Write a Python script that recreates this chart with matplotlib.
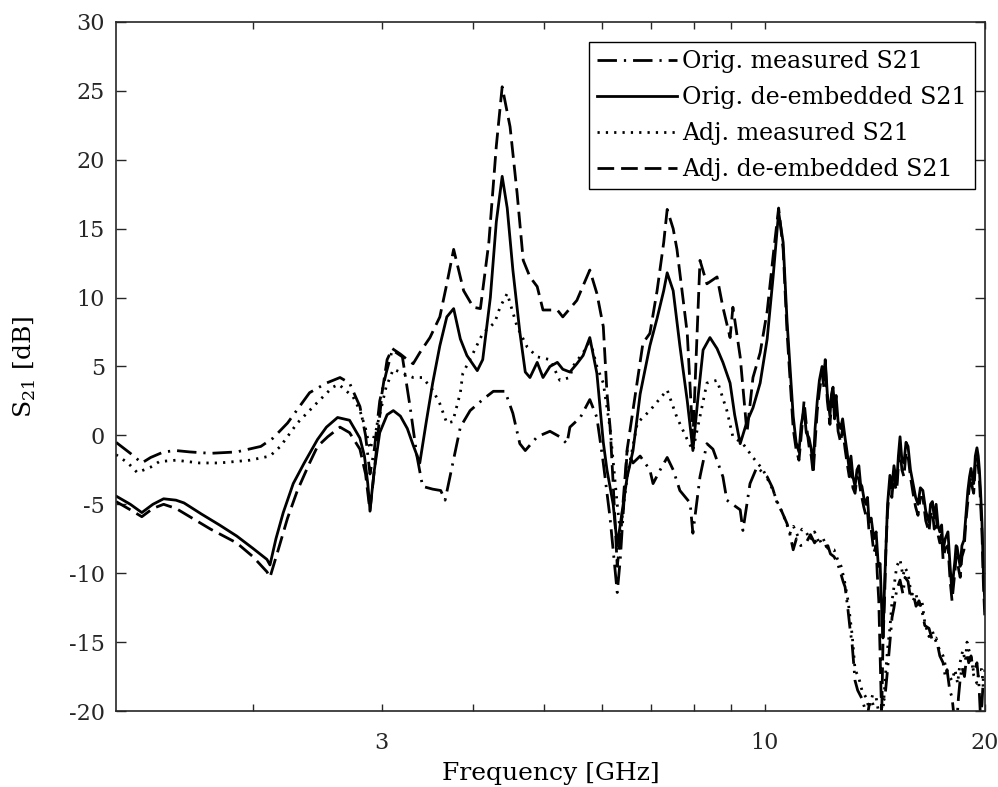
import numpy as np
import matplotlib
matplotlib.use("Agg")
import matplotlib.pyplot as plt
from matplotlib.ticker import NullLocator

plt.rcParams['font.family'] = ['DejaVu Serif']
plt.rcParams['mathtext.fontset'] = 'custom'
plt.rcParams['mathtext.rm'] = 'DejaVu Serif'
plt.rcParams['axes.unicode_minus'] = False

# Orig. de-embedded S21 (solid)
f_orig_deemb = [1.30, 1.36, 1.41, 1.46, 1.51, 1.57, 1.61, 1.70, 1.80, 1.90, 2.00, 2.09, 2.11, 2.15,
                2.20, 2.27, 2.35, 2.45, 2.52, 2.61, 2.71, 2.80, 2.84, 2.87, 2.89, 2.93, 2.98, 3.05,
                3.11, 3.18, 3.25, 3.31, 3.38, 3.45, 3.52, 3.60, 3.68, 3.76, 3.84, 3.92, 4.05, 4.12,
                4.22, 4.30, 4.38, 4.45, 4.53, 4.63, 4.71, 4.78, 4.89, 4.98, 5.09, 5.21, 5.30, 5.42,
                5.54, 5.65, 5.77, 5.90, 6.02, 6.09, 6.21, 6.29, 6.35, 6.49, 6.61, 6.76, 6.97, 7.13,
                7.28, 7.36, 7.50, 7.66, 7.84, 7.98, 8.10, 8.24, 8.42, 8.61, 8.77, 8.97, 9.10, 9.26,
                9.46, 9.64, 9.86, 10.08, 10.27, 10.45, 10.60, 10.73,
                10.94, 11.04, 11.14, 11.22, 11.32, 11.40, 11.50, 11.58, 11.65, 11.72, 11.80, 11.88,
                11.98, 12.05, 12.10, 12.18, 12.28, 12.34, 12.40, 12.46, 12.52, 12.60, 12.70, 12.78,
                12.88, 12.96, 13.05, 13.12, 13.20, 13.29, 13.37, 13.45, 13.52, 13.58, 13.66, 13.75,
                13.82, 13.89, 13.98, 14.10, 14.20, 14.30, 14.38, 14.45, 14.51, 14.58, 14.65, 14.72,
                14.83, 14.92, 15.02, 15.10, 15.15, 15.23, 15.31, 15.40, 15.50, 15.60, 15.70, 15.82,
                15.95, 16.08, 16.20, 16.32, 16.45, 16.60, 16.77, 16.85, 16.95, 17.05, 17.15, 17.25,
                17.35, 17.45, 17.53, 17.65, 17.80, 17.92, 18.03, 18.12, 18.20, 18.26, 18.32, 18.42,
                18.50, 18.60, 18.72, 18.85, 18.95, 19.05, 19.14, 19.22, 19.30, 19.40, 19.50, 19.58,
                19.65, 19.72, 19.81, 19.90, 20.0]
s_orig_deemb = [-4.4, -5.0, -5.6, -5.0, -4.6, -4.7, -4.9, -5.7, -6.5, -7.3, -8.2, -9.0, -9.4, -7.5,
                -5.6, -3.5, -2.0, -0.3, 0.6, 1.3, 1.1, -0.2, -1.5, -3.5, -5.4, -2.5, 0.2, 1.5,
                1.8, 1.4, 0.5, -0.7, -2.0, 1.0, 3.8, 6.5, 8.6, 9.2, 7.0, 5.8, 4.7, 5.5,
                10.0, 15.5, 18.8, 16.5, 12.0, 7.5, 4.6, 4.2, 5.3, 4.2, 5.0, 5.3, 4.8, 4.6,
                5.2, 5.8, 7.1, 4.5, -0.5, -2.5, -5.0, -8.0, -6.5, -3.0, -1.1, 3.0, 6.5, 8.5,
                10.5, 11.8, 10.5, 6.5, 2.5, -1.1, 2.5, 6.2, 7.1, 6.3, 5.3, 3.8, 1.5, -0.6,
                1.0, 2.0, 3.8, 7.0, 11.5, 16.2, 14.0, 8.3,
                1.4, -0.5, -1.2, 0.8, 1.9, 0.2, -0.2, -1.0, -2.4, 0.5, 2.5, 4.0,
                5.0, 4.0, 5.5, 3.0, 1.4, 3.0, 3.5, 2.0, 2.9, 1.0, 0.5, 1.2,
                -0.2, -1.2, -2.5, -1.5, -3.0, -3.7, -2.5, -2.2, -3.5, -3.7, -4.5, -5.0,
                -4.5, -6.3, -6.0, -7.5, -7.0, -9.5, -9.3, -12.5, -14.7, -11.0, -8.0, -5.0,
                -2.9, -3.8, -2.2, -3.0, -3.5, -1.5, -0.1, -1.8, -2.0, -0.5, -0.8, -2.5,
                -3.5, -4.5, -5.0, -3.8, -4.0, -5.5, -6.3, -5.0, -4.8, -6.0, -5.0, -6.5,
                -7.0, -6.5, -8.3, -7.5, -7.0, -9.5, -11.4, -10.0, -9.0, -8.0, -8.1, -9.0,
                -9.5, -8.0, -7.6, -5.5, -4.0, -3.0, -2.4, -3.0, -3.5, -1.5, -0.9, -1.5,
                -2.5, -4.0, -6.3, -10.0, -12.5]

# Adj. de-embedded S21 (dashed)
f_adj_deemb = [1.30, 1.36, 1.41, 1.46, 1.51, 1.57, 1.64, 1.75, 1.90, 2.00, 2.09, 2.11, 2.16, 2.23,
               2.30, 2.39, 2.45, 2.53, 2.63, 2.71, 2.80, 2.85, 2.89, 2.95, 3.00, 3.05, 3.10, 3.18,
               3.25, 3.31, 3.38, 3.49, 3.60, 3.68, 3.76, 3.84, 3.88, 4.00, 4.09, 4.20, 4.30, 4.38,
               4.49, 4.59, 4.68, 4.78, 4.89, 4.98, 5.21, 5.30, 5.54, 5.77, 5.90, 6.02, 6.09, 6.15,
               6.21, 6.29, 6.35, 6.49, 6.82, 6.97, 7.13, 7.28, 7.36, 7.50, 7.59, 7.84, 7.98, 8.16,
               8.34, 8.61, 8.77, 8.97, 9.05, 9.26, 9.46, 9.64, 9.86, 10.08, 10.27, 10.45, 10.60,
               10.73, 10.94, 11.04, 11.14, 11.22, 11.32, 11.40, 11.50, 11.58, 11.65, 11.72, 11.80,
               11.88, 11.98, 12.05, 12.10, 12.18, 12.28, 12.34, 12.40, 12.46, 12.52, 12.60, 12.70,
               12.78, 12.88, 12.96, 13.05, 13.12, 13.20, 13.29, 13.37, 13.45, 13.52, 13.58, 13.66,
               13.75, 13.82, 13.89, 13.98, 14.10, 14.20, 14.25, 14.32, 14.38, 14.45, 14.51, 14.58,
               14.65, 14.72, 14.83, 14.92, 15.02, 15.10, 15.15, 15.23, 15.31, 15.40, 15.50, 15.60,
               15.70, 15.82, 15.95, 16.08, 16.20, 16.32, 16.45, 16.60, 16.77, 16.85, 16.95, 17.05,
               17.15, 17.25, 17.35, 17.45, 17.53, 17.65, 17.80, 17.92, 18.03, 18.12, 18.20, 18.26,
               18.32, 18.42, 18.50, 18.60, 18.72, 18.85, 18.95, 19.05, 19.14, 19.22, 19.30, 19.40,
               19.50, 19.58, 19.65, 19.72, 19.81, 19.90, 20.0]
s_adj_deemb = [-4.8, -5.4, -5.9, -5.3, -5.0, -5.3, -5.9, -6.8, -7.8, -8.8, -9.9, -10.3, -8.5, -6.0,
               -4.0, -2.0, -0.8, -0.1, 0.6, 0.2, -1.0, -2.8, -5.5, -1.0, 3.0, 5.5, 6.3, 5.9,
               5.5, 5.2, 6.0, 7.1, 8.6, 11.0, 13.5, 11.5, 10.5, 9.3, 9.2, 14.0, 21.0, 25.3,
               22.4, 17.6, 12.7, 11.5, 10.8, 9.1, 9.1, 8.6, 9.8, 12.0, 10.3, 7.9, 3.1, 0.6,
               -3.5, -9.5, -7.5, -1.0, 6.7, 7.4, 10.5, 14.0, 16.4, 15.0, 13.5, 7.4, -0.3, 12.7,
               11.0, 11.5, 9.3, 7.1, 9.3, 5.7, 0.2, 4.2, 6.0, 9.0, 13.0, 16.5, 13.5,
               7.5, 0.5, -1.0, -1.8, 0.0, 2.5, 0.8, -0.8, -1.5, -2.8, -0.5, 1.8,
               3.2, 4.5, 3.5, 5.2, 2.5, 0.8, 2.2, 3.0, 1.2, 2.2, 0.3, -0.5,
               0.5, -1.0, -2.0, -3.0, -2.0, -3.8, -4.2, -3.0, -3.2, -4.0, -4.5, -5.2,
               -5.8, -5.5, -7.0, -6.8, -8.5, -8.0, -10.0, -12.0, -16.0, -20.5, -15.0, -12.0,
               -8.0, -5.5, -3.5, -4.5, -2.8, -3.8, -4.0, -2.2, -1.0, -2.5, -3.0, -1.2,
               -1.5, -3.0, -4.2, -5.2, -5.8, -4.5, -4.5, -6.2, -7.0, -5.8, -5.5, -6.8,
               -5.8, -7.2, -7.8, -7.2, -9.0, -8.2, -8.0, -10.5, -12.0, -10.8, -9.8, -8.8,
               -9.0, -9.8, -10.3, -8.8, -8.3, -6.0, -4.8, -3.6, -3.0, -3.8, -4.2, -2.2,
               -1.6, -2.2, -3.2, -4.8, -7.0, -10.8, -13.5]

# Orig. measured S21 (dash-dot)
f_orig_meas = [1.30, 1.36, 1.41, 1.45, 1.51, 1.57, 1.64, 1.75, 1.90, 2.05, 2.13, 2.23, 2.39, 2.52,
               2.63, 2.71, 2.80, 2.85, 2.89, 2.93, 2.98, 3.04, 3.10, 3.20, 3.28, 3.35, 3.41, 3.52,
               3.61, 3.66, 3.75, 3.84, 3.96, 4.12, 4.26, 4.42, 4.53, 4.63, 4.71, 4.89, 5.09, 5.25,
               5.37, 5.42, 5.60, 5.77, 5.90, 6.02, 6.15, 6.29, 6.35, 6.49, 6.61, 6.76, 6.97, 7.04,
               7.20, 7.36, 7.50, 7.66, 7.91, 7.98, 8.16, 8.34, 8.50, 8.77, 8.88, 9.26, 9.34, 9.55,
               9.76, 10.08, 10.25, 10.40, 10.55, 10.73, 10.83, 10.94, 11.05, 11.20, 11.39, 11.55,
               11.70, 11.85, 12.02, 12.20, 12.30, 12.44, 12.58, 12.72, 12.80, 12.88, 13.00, 13.08,
               13.17, 13.29, 13.40, 13.58, 13.70, 13.80, 13.93, 14.06, 14.20, 14.38, 14.48, 14.60,
               14.72, 14.83, 14.93, 15.02, 15.15, 15.31, 15.45, 15.55, 15.70, 15.82, 15.95, 16.10,
               16.25, 16.40, 16.55, 16.77, 16.95, 17.15, 17.35, 17.53, 17.65, 17.75, 17.90, 18.03,
               18.15, 18.32, 18.40, 18.49, 18.60, 18.75, 18.90, 19.00, 19.14, 19.30, 19.50, 19.62,
               19.72, 19.81, 19.90, 20.0]
s_orig_meas = [-0.5, -1.3, -2.0, -1.6, -1.2, -1.1, -1.2, -1.3, -1.2, -0.8, -0.2, 0.9, 3.1, 3.8,
               4.2, 3.8, 2.1, 0.0, -2.8, -1.0, 2.5, 4.5, 6.2, 5.7, 2.0, -1.5, -3.7, -3.9,
               -4.0, -4.7, -2.0, 0.6, 1.8, 2.6, 3.2, 3.2, 1.6, -0.6, -1.1, -0.1, 0.3, -0.1,
               -0.6, 0.6, 1.3, 2.6, 1.3, -2.0, -6.0, -11.4, -9.0, -1.1, -2.0, -1.5, -2.5, -3.5,
               -2.5, -1.6, -2.5, -4.0, -4.9, -7.1, -3.0, -0.6, -1.0, -3.0, -4.7, -5.4, -6.9, -3.5,
               -2.3, -3.0, -3.8, -4.9, -5.5, -6.4, -7.2, -8.3, -7.5, -8.0, -7.8, -7.2,
               -7.8, -7.4, -8.1, -8.0, -8.6, -8.8, -9.3, -10.1, -10.6, -11.0, -12.7, -14.0,
               -15.2, -17.8, -18.5, -19.1, -19.8, -20.5, -19.2, -19.5, -20.3, -20.5, -19.5, -19.0,
               -17.0, -15.0, -13.2, -12.5, -11.2, -10.5, -11.5, -10.3, -10.6, -11.8, -11.4, -12.4,
               -12.0, -12.7, -13.8, -14.0, -14.9, -14.7, -16.0, -16.5, -17.5, -17.0, -18.5, -19.0,
               -20.5, -20.5, -19.0, -17.8, -16.8, -17.5, -15.8, -16.5, -16.0, -17.2, -16.5, -18.0,
               -20.5, -19.5, -17.5, -17.0]

# Adj. measured S21 (dotted)
f_adj_meas = [1.30, 1.35, 1.39, 1.45, 1.49, 1.57, 1.69, 1.80, 1.98, 2.11, 2.18, 2.30, 2.45, 2.57,
              2.62, 2.74, 2.80, 2.85, 2.89, 2.95, 3.04, 3.11, 3.21, 3.31, 3.41, 3.52, 3.60, 3.68,
              3.75, 3.84, 3.87, 4.00, 4.12, 4.28, 4.35, 4.45, 4.59, 4.74, 4.89, 5.09, 5.25, 5.42,
              5.47, 5.72, 5.77, 5.90, 6.02, 6.15, 6.29, 6.35, 6.49, 6.70, 6.97, 7.36, 7.59, 7.84,
              7.98, 8.34, 8.61, 8.88, 9.05, 9.34, 9.64, 9.95, 10.10, 10.27, 10.40, 10.53, 10.68,
              10.83, 10.95, 11.10, 11.25, 11.39, 11.55, 11.70, 11.85, 12.02, 12.20, 12.44, 12.58,
              12.72, 12.85, 13.00, 13.17, 13.29, 13.45, 13.58, 13.75, 13.89, 14.05, 14.20, 14.35,
              14.50, 14.62, 14.72, 14.83, 14.93, 15.02, 15.15, 15.31, 15.45, 15.55, 15.70, 15.82,
              15.95, 16.10, 16.25, 16.40, 16.55, 16.77, 16.95, 17.15, 17.35, 17.53, 17.75, 18.03,
              18.20, 18.35, 18.49, 18.65, 18.80, 18.90, 19.02, 19.14, 19.30, 19.50, 19.65, 19.81,
              19.90, 20.0]
s_adj_meas = [-1.4, -2.0, -2.7, -2.3, -1.9, -1.8, -2.0, -2.0, -1.8, -1.5, -0.8, 0.9, 2.4, 3.5,
              3.7, 2.8, 1.8, 0.5, -1.0, 0.5, 3.5, 4.8, 4.5, 4.2, 4.2, 3.3, 2.3, 0.9,
              1.0, 3.1, 4.5, 6.0, 7.4, 8.2, 9.3, 10.3, 7.9, 6.4, 5.7, 5.5, 4.0, 4.2,
              5.0, 6.4, 7.0, 5.0, 3.8, 0.5, -5.0, -7.0, -3.0, 0.9, 1.8, 3.3, 1.3, -0.3,
              -1.1, 3.8, 4.0, 1.8, -0.1, -0.6, -1.6, -2.5, -3.2, -4.0, -4.8, -5.4, -6.2,
              -7.1, -6.6, -7.3, -6.8, -7.0, -7.6, -7.0, -7.7, -7.5, -8.2, -8.3, -9.0,
              -9.5, -10.5, -12.0, -14.5, -17.0, -17.6, -18.5, -19.0, -19.8, -18.8, -19.0, -20.5,
              -20.3, -17.5, -15.5, -14.0, -12.0, -11.0, -9.5, -9.0, -10.2, -9.6, -10.0, -11.2,
              -12.0, -11.5, -12.6, -12.0, -13.6, -14.6, -14.2, -15.0, -15.6, -16.0, -17.2, -17.8,
              -17.0, -18.0, -16.5, -15.6, -16.4, -15.0, -15.6, -16.0, -17.4, -18.0, -17.0, -17.0,
              -18.5, -18.5]

fig = plt.figure(figsize=(9.98, 7.87), dpi=100)
ax = fig.add_axes([116 / 998, 1 - 711 / 787, 869 / 998, 689 / 787])

lw = 2.0
ax.plot(f_orig_meas, s_orig_meas, color='k', lw=lw, dashes=(7, 2.5, 0.8, 2.5),
        label='Orig. measured S21')
ax.plot(f_orig_deemb, s_orig_deemb, color='k', lw=lw, linestyle='-',
        label='Orig. de-embedded S21')
ax.plot(f_adj_meas, s_adj_meas, color='k', lw=lw, dashes=(0.8, 2.2),
        label='Adj. measured S21')
ax.plot(f_adj_deemb, s_adj_deemb, color='k', lw=lw, dashes=(6, 2.5),
        label='Adj. de-embedded S21')

ax.set_xscale('log')
ax.set_xlim(1.3, 20)
ax.set_ylim(-20, 30)
ax.set_xticks([2, 3, 4, 5, 6, 7, 8, 9, 10, 20])
ax.set_xticklabels(['', '3', '', '', '', '', '', '', '10', '20'])
ax.xaxis.set_minor_locator(NullLocator())
ax.set_yticks(np.arange(-20, 31, 5))

ax.tick_params(axis='both', direction='in', top=True, right=True, labelsize=16,
               colors='#262626', width=1)
ax.tick_params(axis='x', length=5, pad=15)
ax.tick_params(axis='y', length=7, pad=8)
for sp in ax.spines.values():
    sp.set_color('#262626')
    sp.set_linewidth(1.2)

ax.set_xlabel('Frequency [GHz]', fontsize=18, labelpad=6)
ax.set_ylabel(r'S$_{21}$ [dB]', fontsize=18, labelpad=22)

leg = ax.legend(loc='upper right', bbox_to_anchor=(0.9885, 0.971), borderaxespad=0,
                fontsize=17, handlelength=3.4, handletextpad=0.2, labelspacing=0.55,
                borderpad=0.35, fancybox=False, framealpha=1, edgecolor='k')
leg.get_frame().set_linewidth(1.0)

fig.savefig('out.png', dpi=100)
